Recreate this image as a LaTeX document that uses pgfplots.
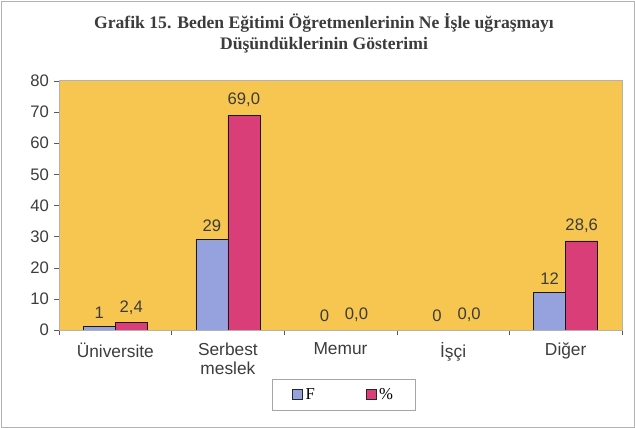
\documentclass[border=0pt]{standalone}
\usepackage{fontspec}
\setmainfont{Liberation Serif}
\newfontfamily\arial{Liberation Sans}
\usepackage{pgfplots}
\pgfplotsset{compat=1.18}
\definecolor{plotbg}{RGB}{246,198,80}
\definecolor{fbar}{RGB}{150,162,222}
\definecolor{pbar}{RGB}{218,62,120}
\definecolor{txt}{RGB}{60,60,60}
\begin{document}
\begin{tikzpicture}
\begin{scope}[x=0.75pt,y=-0.75pt]
\useasboundingbox (0,0) rectangle (635,428);
\draw[gray!60,line width=0.6pt] (1,1) rectangle (634,427);
\node[font=\bfseries\fontsize{13.2}{15.5}\selectfont,text=txt,align=center] at (324,33)
  {Grafik 15. Beden Eğitimi Öğretmenlerinin Ne İşle uğraşmayı\\Düşündüklerinin Gösterimi};
\end{scope}
\begin{axis}[
  at={(44.25pt,-247.5pt)}, anchor=south west,
  scale only axis, width=422.25pt, height=186.75pt,
  axis background/.style={fill=plotbg},
  axis line style={gray!70!black,line width=0.5pt},
  xmin=-0.5, xmax=4.5, ymin=0, ymax=80,
  ytick={0,10,...,80},
  xtick={0,1,2,3,4},
  xticklabels={Üniversite,{Serbest\\meslek},Memur,İşçi,Diğer},
  xticklabel style={align=center,text=txt,font=\arial\fontsize{13}{14.5}\selectfont,yshift=-2pt},
  yticklabel style={text=txt,font=\arial\fontsize{12.5}{14}\selectfont},
  /pgf/number format/assume math mode=true,
  major x tick style={draw=none},
  minor xtick={-0.5,0.5,1.5,2.5,3.5,4.5},
  tick align=outside, tick style={gray!70!black},
  major tick length=4pt, minor tick length=4pt,
  axis x line*=bottom, axis y line*=left,
  x axis line style={-}, y axis line style={-},
  ybar=0pt, bar width=24pt,
  nodes near coords,
  point meta=explicit symbolic,
  nodes near coords style={text=txt,font=\arial\fontsize{12.5}{14}\selectfont,inner sep=2pt,yshift=4pt},
  legend style={at={(0.506,-0.26)},anchor=center,draw=gray!70,font=\fontsize{12.5}{14}\selectfont,
    legend columns=2, /tikz/every even column/.append style={column sep=36pt}, inner xsep=15pt, inner ysep=5pt},
  legend image code/.code={\draw[#1,draw=gray!30!black,line width=0.5pt] (0pt,-3.8pt) rectangle (7.6pt,3.8pt);},
  clip=false,
]
\addplot[fill=fbar,draw=gray!20!black,line width=0.6pt] table[meta=l] {
x y l
0 1 1
1 29 29
2 0 0
3 0 0
4 12 12
};
\addplot[fill=pbar,draw=gray!20!black,line width=0.6pt] table[meta=l] {
x y l
0 2.4 {2,4}
1 69.0 {69,0}
2 0 {0,0}
3 0 {0,0}
4 28.6 {28,6}
};
\legend{F,\%}
\end{axis}
\begin{scope}[x=0.75pt,y=-0.75pt]
\draw[gray!60] (59,80) rectangle (622,330);
\end{scope}
\end{tikzpicture}
\end{document}
